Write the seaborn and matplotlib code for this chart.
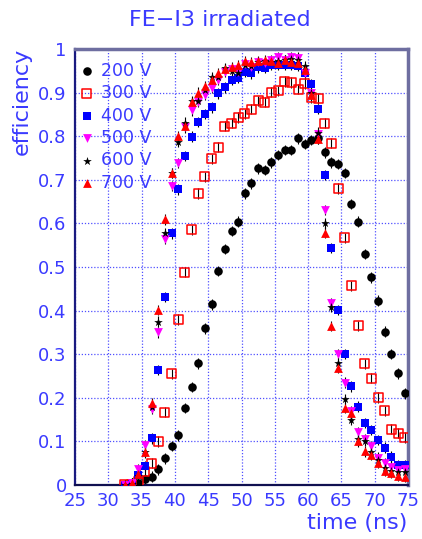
import numpy as np
import pandas as pd
import matplotlib
matplotlib.use("Agg")
import matplotlib.pyplot as plt
import seaborn as sns
from matplotlib.ticker import MultipleLocator, FormatStrFormatter

# ---------------- data ----------------
time_ns = [32.5, 33.5, 34.5, 35.5, 36.5, 37.5, 38.5, 39.5, 40.5, 41.5,
           42.5, 43.5, 44.5, 45.5, 46.5, 47.5, 48.5, 49.5, 50.5, 51.5,
           52.5, 53.5, 54.5, 55.5, 56.5, 57.5, 58.5, 59.5, 60.5, 61.5,
           62.5, 63.5, 64.5, 65.5, 66.5, 67.5, 68.5, 69.5, 70.5, 71.5,
           72.5, 73.5, 74.5]

eff_200V = [0.0, 0.002, 0.005, 0.013, 0.019, 0.036, 0.061, 0.089, 0.114, 0.177,
            0.225, 0.279, 0.359, 0.414, 0.491, 0.541, 0.583, 0.604, 0.669, 0.692,
            0.726, 0.722, 0.740, 0.757, 0.768, 0.768, 0.795, 0.782, 0.791, 0.795,
            0.763, 0.740, 0.736, 0.716, 0.645, 0.604, 0.530, 0.476, 0.423, 0.352,
            0.300, 0.256, 0.210]
eff_300V = [0.0, 0.002, 0.008, 0.030, 0.050, 0.100, 0.167, 0.255, 0.380, 0.488,
            0.585, 0.669, 0.707, 0.748, 0.775, 0.823, 0.830, 0.843, 0.851, 0.862,
            0.881, 0.878, 0.901, 0.904, 0.925, 0.923, 0.908, 0.921, 0.889, 0.887,
            0.830, 0.784, 0.680, 0.567, 0.457, 0.365, 0.278, 0.245, 0.201, 0.170,
            0.128, 0.119, 0.109]
eff_400V = [0.0, 0.003, 0.023, 0.043, 0.107, 0.264, 0.431, 0.577, 0.678, 0.755,
            0.799, 0.833, 0.851, 0.866, 0.898, 0.912, 0.930, 0.933, 0.947, 0.944,
            0.958, 0.956, 0.963, 0.964, 0.964, 0.963, 0.962, 0.946, 0.920, 0.862,
            0.711, 0.543, 0.401, 0.300, 0.226, 0.180, 0.142, 0.126, 0.103, 0.086,
            0.065, 0.045, 0.045]
eff_500V = [0.0, 0.005, 0.036, 0.091, 0.174, 0.350, 0.565, 0.686, 0.738, 0.820,
            0.859, 0.879, 0.894, 0.911, 0.930, 0.948, 0.955, 0.947, 0.965, 0.959,
            0.970, 0.968, 0.975, 0.981, 0.975, 0.981, 0.980, 0.944, 0.898, 0.805,
            0.631, 0.417, 0.300, 0.235, 0.170, 0.121, 0.105, 0.089, 0.063, 0.050,
            0.042, 0.035, 0.037]
eff_600V = [0.0, 0.003, 0.020, 0.076, 0.180, 0.375, 0.578, 0.716, 0.787, 0.831,
            0.881, 0.881, 0.905, 0.935, 0.935, 0.956, 0.950, 0.944, 0.963, 0.962,
            0.970, 0.972, 0.970, 0.972, 0.975, 0.978, 0.975, 0.960, 0.900, 0.808,
            0.600, 0.409, 0.280, 0.197, 0.149, 0.105, 0.102, 0.076, 0.058, 0.039,
            0.033, 0.030, 0.030]
eff_700V = [0.0, 0.005, 0.025, 0.075, 0.187, 0.401, 0.609, 0.715, 0.800, 0.824,
            0.879, 0.900, 0.914, 0.930, 0.944, 0.953, 0.958, 0.963, 0.973, 0.970,
            0.973, 0.975, 0.973, 0.967, 0.975, 0.970, 0.967, 0.952, 0.894, 0.794,
            0.579, 0.365, 0.268, 0.176, 0.164, 0.100, 0.077, 0.069, 0.051, 0.033,
            0.027, 0.021, 0.019]

labels = ["200 V", "300 V", "400 V", "500 V", "600 V", "700 V"]
series = [eff_200V, eff_300V, eff_400V, eff_500V, eff_600V, eff_700V]

x_ticks = [25, 30, 35, 40, 45, 50, 55, 60, 65, 70, 75]
y_ticks = [0, 0.1, 0.2, 0.3, 0.4, 0.5, 0.6, 0.7, 0.8, 0.9, 1]

title = "FE\u2212I3 irradiated"
xlabel = "time (ns)"
ylabel = "efficiency"

# ---------------- style ----------------
BLUE = "#3a3aff"
sns.set_style("white")
plt.rcParams["font.family"] = ["DejaVu Sans"]

styles = [
    dict(marker="o", color="black", s=38, linewidth=0),
    dict(marker="s", facecolor="none", edgecolor="red", s=42, linewidth=1.1),
    dict(marker="s", color="blue", s=36, linewidth=0),
    dict(marker="v", color="#ff00ff", s=40, linewidth=0),
    dict(marker="*", color="black", s=42, linewidth=0),
    dict(marker="^", color="red", s=40, linewidth=0),
]

fig = plt.figure(figsize=(4.22, 5.39), dpi=100)
ax = fig.add_axes([75 / 422, 1 - 485 / 539, 333 / 422, 436 / 539])

# grid
ax.set_axisbelow(True)
ax.grid(True, which="major", color="#5050ff", linestyle=(0, (1, 1.5)), linewidth=0.9)

err = 0.012
for lab, vals, st in zip(labels, series, styles):
    df = pd.DataFrame({"time": time_ns, "eff": vals})
    ax.errorbar(df["time"], df["eff"], yerr=err, fmt="none", ecolor="black",
                elinewidth=0.8, capsize=0, zorder=2)
    sns.scatterplot(data=df, x="time", y="eff", ax=ax, label=lab, zorder=3, **st)

ax.set_xlim(25, 75)
ax.set_ylim(0, 1)
ax.xaxis.set_minor_locator(MultipleLocator(1))
ax.yaxis.set_minor_locator(MultipleLocator(0.02))
ax.set_xticks(x_ticks)
ax.set_yticks(y_ticks)
ax.yaxis.set_major_formatter(FormatStrFormatter("%g"))

ax.tick_params(axis="both", which="both", direction="in", colors=BLUE,
               labelsize=13, top=False, right=False)
ax.tick_params(axis="both", which="major", length=8, width=1.0)
ax.tick_params(axis="both", which="minor", length=4, width=1.0)
ax.tick_params(axis="x", pad=5)
ax.tick_params(axis="y", pad=6)

for side in ["top", "right"]:
    ax.spines[side].set_color("#6e6ea0")
    ax.spines[side].set_linewidth(2.5)
ax.spines["left"].set_color("#1a1a80")
ax.spines["left"].set_linewidth(1.6)
ax.spines["bottom"].set_color("#101050")
ax.spines["bottom"].set_linewidth(1.6)

ax.set_xlabel("")
ax.set_ylabel("")
fig.text(407 / 422, 1 - 523 / 539, xlabel, ha="right", va="center",
         color=BLUE, fontsize=16)
fig.text(22 / 422, 1 - 48 / 539, ylabel, ha="center", va="top", rotation=90,
         color=BLUE, fontsize=16)

fig.text(220 / 422, 1 - 20 / 539, title, ha="center", va="center",
         color=BLUE, fontsize=16)

leg = ax.legend(loc="upper left", bbox_to_anchor=(-0.022, 0.994), frameon=False,
                fontsize=12.5, labelcolor=BLUE, handlelength=1.0,
                handletextpad=0.3, labelspacing=0.25, borderaxespad=0.2)

fig.savefig("out.png", dpi=100)
